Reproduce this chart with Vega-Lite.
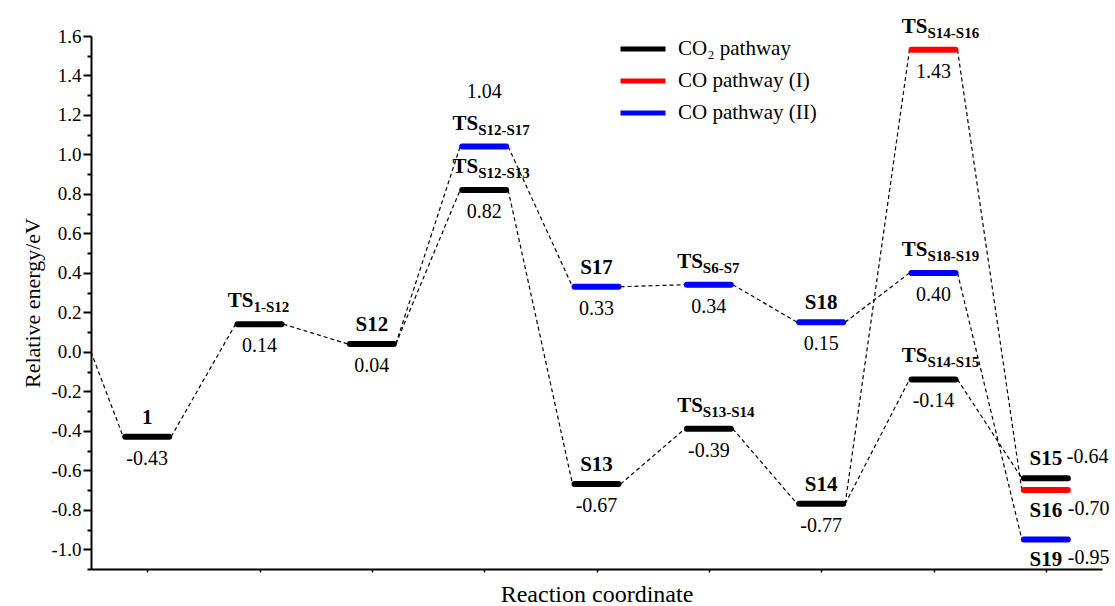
{
  "$schema": "https://vega.github.io/schema/vega-lite/v6.json",
  "width": 1011,
  "height": 533,
  "autosize": {"type": "none"},
  "padding": {"left": 91, "top": 36, "right": 13, "bottom": 37},
  "background": "white",
  "config": {
    "view": {"stroke": null},
    "font": "Liberation Serif, Times New Roman, serif",
    "text": {"font": "Liberation Serif, Times New Roman, serif", "color": "black"}
  },
  "datasets": {
    "levels": [
      {"step": 0, "energy": -0.43, "pathway": "CO₂ pathway", "name": "1", "sub": "", "label": "-0.43"},
      {"step": 1, "energy": 0.14, "pathway": "CO₂ pathway", "name": "TS", "sub": "1-S12", "label": "0.14"},
      {"step": 2, "energy": 0.04, "pathway": "CO₂ pathway", "name": "S12", "sub": "", "label": "0.04"},
      {"step": 3, "energy": 0.82, "pathway": "CO₂ pathway", "name": "TS", "sub": "S12-S13", "label": "0.82"},
      {"step": 3, "energy": 1.04, "pathway": "CO pathway (II)", "name": "TS", "sub": "S12-S17", "label": "1.04"},
      {"step": 4, "energy": -0.67, "pathway": "CO₂ pathway", "name": "S13", "sub": "", "label": "-0.67"},
      {"step": 4, "energy": 0.33, "pathway": "CO pathway (II)", "name": "S17", "sub": "", "label": "0.33"},
      {"step": 5, "energy": -0.39, "pathway": "CO₂ pathway", "name": "TS", "sub": "S13-S14", "label": "-0.39"},
      {"step": 5, "energy": 0.34, "pathway": "CO pathway (II)", "name": "TS", "sub": "S6-S7", "label": "0.34"},
      {"step": 6, "energy": -0.77, "pathway": "CO₂ pathway", "name": "S14", "sub": "", "label": "-0.77"},
      {"step": 6, "energy": 0.15, "pathway": "CO pathway (II)", "name": "S18", "sub": "", "label": "0.15"},
      {"step": 7, "energy": -0.14, "pathway": "CO₂ pathway", "name": "TS", "sub": "S14-S15", "label": "-0.14"},
      {"step": 7, "energy": 0.40, "pathway": "CO pathway (II)", "name": "TS", "sub": "S18-S19", "label": "0.40"},
      {"step": 7, "energy": 1.53, "pathway": "CO pathway (I)", "name": "TS", "sub": "S14-S16", "label": "1.43"},
      {"step": 8, "energy": -0.64, "pathway": "CO₂ pathway", "name": "S15", "sub": "", "label": "-0.64"},
      {"step": 8, "energy": -0.70, "pathway": "CO pathway (I)", "name": "S16", "sub": "", "label": "-0.70"},
      {"step": 8, "energy": -0.95, "pathway": "CO pathway (II)", "name": "S19", "sub": "", "label": "-0.95"}
    ],
    "links": [
      {"step": -0.5, "energy": 0.0, "step2": 0, "energy2": -0.43},
      {"step": 0, "energy": -0.43, "step2": 1, "energy2": 0.14},
      {"step": 1, "energy": 0.14, "step2": 2, "energy2": 0.04},
      {"step": 2, "energy": 0.04, "step2": 3, "energy2": 0.82},
      {"step": 3, "energy": 0.82, "step2": 4, "energy2": -0.67},
      {"step": 4, "energy": -0.67, "step2": 5, "energy2": -0.39},
      {"step": 5, "energy": -0.39, "step2": 6, "energy2": -0.77},
      {"step": 6, "energy": -0.77, "step2": 7, "energy2": -0.14},
      {"step": 7, "energy": -0.14, "step2": 8, "energy2": -0.64},
      {"step": 6, "energy": -0.77, "step2": 7, "energy2": 1.53},
      {"step": 7, "energy": 1.53, "step2": 8, "energy2": -0.70},
      {"step": 2, "energy": 0.04, "step2": 3, "energy2": 1.04},
      {"step": 3, "energy": 1.04, "step2": 4, "energy2": 0.33},
      {"step": 4, "energy": 0.33, "step2": 5, "energy2": 0.34},
      {"step": 5, "energy": 0.34, "step2": 6, "energy2": 0.15},
      {"step": 6, "energy": 0.15, "step2": 7, "energy2": 0.40},
      {"step": 7, "energy": 0.40, "step2": 8, "energy2": -0.95}
    ]
  },
  "encoding": {
    "x": {
      "field": "step",
      "type": "quantitative",
      "scale": {"domain": [-0.5, 8.5], "nice": false, "zero": false},
      "axis": {
        "values": [0, 1, 2, 3, 4, 5, 6, 7, 8],
        "labels": false,
        "grid": false,
        "tickSize": 3,
        "tickWidth": 1.5,
        "tickColor": "black",
        "domainColor": "black",
        "domainWidth": 2,
        "title": "Reaction coordinate",
        "titleFont": "Liberation Serif, Times New Roman, serif",
        "titleFontSize": 24,
        "titleFontWeight": "normal",
        "titleColor": "black",
        "titlePadding": 10
      }
    },
    "y": {
      "field": "energy",
      "type": "quantitative",
      "scale": {"domain": [-1.1, 1.6], "nice": false, "zero": false},
      "axis": {
        "values": [-1.1, -1.0, -0.9, -0.8, -0.7, -0.6, -0.5, -0.4, -0.3, -0.2, -0.1, 0.0, 0.1, 0.2, 0.3, 0.4, 0.5, 0.6, 0.7, 0.8, 0.9, 1.0, 1.1, 1.2, 1.3, 1.4, 1.5, 1.6],
        "labelExpr": "round(datum.value*10) % 2 != 0 ? '' : replace(format(datum.value, '.1f'), '−', '-')",
        "tickSize": {"condition": {"test": "round(datum.value*10) % 2 != 0", "value": 4}, "value": 8},
        "grid": false,
        "tickWidth": 2,
        "tickColor": "black",
        "domainColor": "black",
        "domainWidth": 2,
        "labelFont": "Liberation Serif, Times New Roman, serif",
        "labelFontSize": 19,
        "labelColor": "black",
        "labelPadding": 2,
        "title": "Relative energy/eV",
        "titleFont": "Liberation Serif, Times New Roman, serif",
        "titleFontSize": 22,
        "titleFontWeight": "normal",
        "titleColor": "black",
        "titlePadding": 6
      }
    }
  },
  "layer": [
    {
      "data": {"name": "links"},
      "transform": [{"filter": "datum.step >= 0"}],
      "mark": {"type": "rule", "color": "black", "strokeWidth": 1.2, "strokeDash": [4, 3], "xOffset": 24, "x2Offset": -24},
      "encoding": {
        "x2": {"field": "step2"},
        "y2": {"field": "energy2"}
      }
    },
    {
      "data": {"name": "links"},
      "transform": [{"filter": "datum.step < 0"}],
      "mark": {"type": "rule", "color": "black", "strokeWidth": 1.2, "strokeDash": [4, 3], "x2Offset": -24},
      "encoding": {
        "x2": {"field": "step2"},
        "y2": {"field": "energy2"}
      }
    },
    {
      "data": {"name": "levels"},
      "mark": {"type": "rule", "strokeWidth": 6, "strokeCap": "round", "xOffset": -22, "x2Offset": 22},
      "encoding": {
        "x2": {"field": "step"},
        "color": {
          "field": "pathway",
          "type": "nominal",
          "scale": {"domain": ["CO₂ pathway", "CO pathway (I)", "CO pathway (II)"], "range": ["#000000", "#ff0000", "#0000ff"]},
          "legend": {
            "title": null,
            "orient": "none",
            "legendX": 527,
            "legendY": -3,
            "symbolType": "stroke",
            "symbolSize": 2025,
            "symbolStrokeWidth": 5,
            "clipHeight": 32,
            "labelFont": "Liberation Serif, Times New Roman, serif",
            "labelFontSize": 21,
            "labelColor": "black",
            "labelOffset": 10,
            "rowPadding": 0,
            "labelLimit": 400
          }
        }
      }
    },
    {
      "data": {"name": "levels"},
      "transform": [{"filter": "datum.sub == '' && datum.name != 'S16' && datum.name != 'S19'"}],
      "mark": {"type": "text", "align": "center", "baseline": "alphabetic", "dy": -13, "fontSize": 21, "fontWeight": "bold"},
      "encoding": {"text": {"field": "name"}}
    },
    {
      "data": {"name": "levels"},
      "transform": [{"filter": "datum.name == 'S16' || datum.name == 'S19'"}],
      "mark": {"type": "text", "align": "center", "baseline": "alphabetic", "dy": 27, "fontSize": 21, "fontWeight": "bold"},
      "encoding": {"text": {"field": "name"}}
    },
    {
      "data": {"name": "levels"},
      "transform": [{"filter": "datum.sub != ''"}],
      "mark": {"type": "text", "align": "right", "baseline": "alphabetic", "dx": -6, "dy": -17, "fontSize": 21, "fontWeight": "bold"},
      "encoding": {"text": {"field": "name"}}
    },
    {
      "data": {"name": "levels"},
      "transform": [{"filter": "datum.sub != ''"}],
      "mark": {"type": "text", "align": "left", "baseline": "alphabetic", "dx": -6, "dy": -12, "fontSize": 15, "fontWeight": "bold"},
      "encoding": {"text": {"field": "sub"}}
    },
    {
      "data": {"name": "levels"},
      "transform": [{"filter": "datum.step < 8 && datum.sub != 'S12-S17'"}],
      "mark": {"type": "text", "align": "center", "baseline": "alphabetic", "dy": 28, "fontSize": 20},
      "encoding": {"text": {"field": "label"}}
    },
    {
      "data": {"name": "levels"},
      "transform": [{"filter": "datum.sub == 'S12-S17'"}],
      "mark": {"type": "text", "align": "center", "baseline": "alphabetic", "dy": -49, "fontSize": 20},
      "encoding": {"text": {"field": "label"}}
    },
    {
      "data": {"name": "levels"},
      "transform": [{"filter": "datum.name == 'S15'"}],
      "mark": {"type": "text", "align": "left", "baseline": "alphabetic", "dx": 21, "dy": -15, "fontSize": 20},
      "encoding": {"text": {"field": "label"}}
    },
    {
      "data": {"name": "levels"},
      "transform": [{"filter": "datum.name == 'S16' || datum.name == 'S19'"}],
      "mark": {"type": "text", "align": "left", "baseline": "alphabetic", "dx": 22, "dy": 25, "fontSize": 20},
      "encoding": {"text": {"field": "label"}}
    }
  ]
}
